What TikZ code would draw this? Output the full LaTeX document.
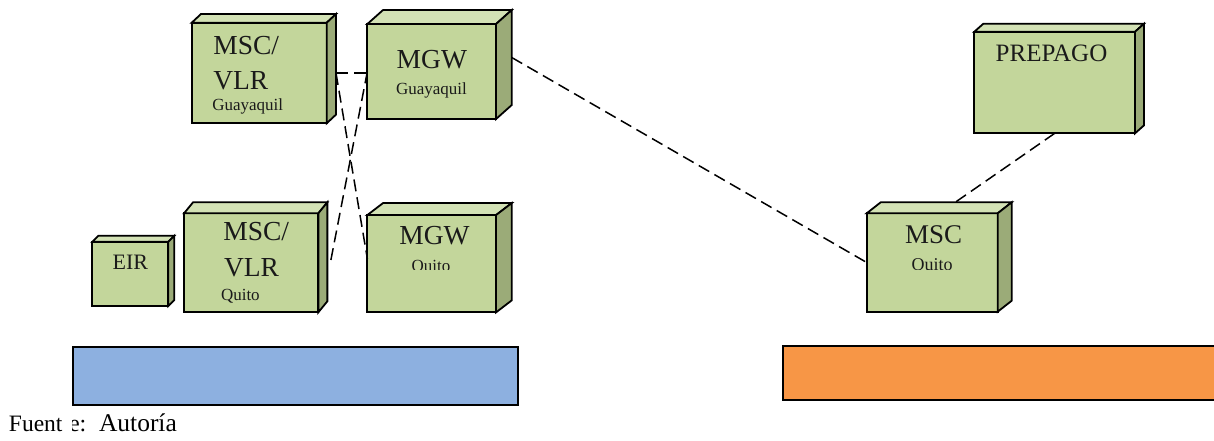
\documentclass[tikz,border=0pt]{standalone}
\usepackage{fontspec}
\setmainfont{Liberation Serif}
\usetikzlibrary{calc}

\definecolor{boxfront}{HTML}{C3D69B}
\definecolor{boxtop}{HTML}{D3E2B5}
\definecolor{boxside}{HTML}{9BAB78}
\definecolor{barblue}{HTML}{8DB0E0}
\definecolor{barorange}{HTML}{F79646}
\definecolor{txtdark}{HTML}{1A1A1A}

\tikzset{
  edge/.style={line width=1.8pt, draw=black, line join=miter},
  frontface/.style={rectangle, edge, fill=boxfront, inner sep=0pt, outer sep=0pt},
  topface/.style={edge, fill=boxtop},
  sideface/.style={edge, fill=boxside},
  bar/.style={rectangle, line width=1.8pt, draw=black, inner sep=0pt, outer sep=0pt},
  link/.style={line width=1.5pt, dash pattern=on 12pt off 6pt},
  lbl/.style={anchor=base west, inner sep=0pt, outer sep=0pt, text=txtdark},
  big/.style={lbl, font=\fontsize{27.5}{29}\selectfont},
  small/.style={lbl, font=\fontsize{17}{19}\selectfont},
}

% 3-D box: name, centre x, centre y, width, height, depth x, depth y
\newcommand\greenbox[7]{%
  \node[frontface, minimum width=#4pt, minimum height=#5pt] (#1) at (#2,#3) {};
  \filldraw[topface] (#1.north west) -- ++(#6pt,#7pt) -- ++(#4pt,0pt)
     -- (#1.north east) -- cycle;
  \filldraw[sideface] (#1.north east) -- ++(#6pt,#7pt) -- ++(0pt,-#5pt)
     -- (#1.south east) -- cycle;
}

\begin{document}
\begin{tikzpicture}[x=1pt,y=-1pt]
\useasboundingbox (0,0) rectangle (1214,440);

% network elements
\greenbox{vlrg}{259.2}{73}{135}{100.6}{9.3}{8.7}
\greenbox{mgwg}{431.7}{71.5}{128.7}{95}{15.7}{14}
\greenbox{vlrq}{251.2}{262.8}{134.3}{99}{9}{11}
\greenbox{mgwq}{431.7}{263.7}{128.7}{97.3}{15.7}{12}
\greenbox{eir}{130.3}{273.9}{76}{64.3}{6}{6}
\greenbox{prepago}{1054.7}{82.5}{160.7}{101.6}{9}{8}
\greenbox{mscq}{932.2}{262.5}{131}{98.4}{14}{11}

% labels
\node[big] (t1) at (213.3,54.3) {MSC/};
\node[big] (t2) at (213.3,89) {VLR};
\node[small] (t3) at (212.3,110) {Guayaquil};

\node[big] (t4) at (396.7,68.3) {MGW};
\node[small] (t5) at (396,94.3) {Guayaquil};

\node[big] (t6) at (223.3,240) {MSC/};
\node[big] (t7) at (224,276.7) {VLR};
\node[small] (t8) at (221,300) {Quito};

\node[big] (t9) at (399.3,244.3) {MGW};
\begin{scope}
  \clip (380,250) rectangle (480,269);
  \node[small] (t10) at (411.7,271.3) {Quito};
\end{scope}

\node[lbl, font=\fontsize{22}{24}\selectfont] (t11) at (112.7,269.3) {EIR};

\node[lbl, font=\fontsize{25}{27}\selectfont] (t12) at (995.7,61.7) {PREPAGO};

\node[lbl, font=\fontsize{27}{29}\selectfont] (t13) at (905,243.3) {MSC};
\begin{scope}
  \clip (890,250) rectangle (990,269.3);
  \node[lbl, font=\fontsize{18}{20}\selectfont] (t14) at (911.7,270.6) {Quito};
\end{scope}

% bars
\node[bar, fill=barblue, minimum width=444.4pt, minimum height=58.3pt] (bblue) at (295.5,375.85) {};
\node[bar, fill=barorange, minimum width=440pt, minimum height=54pt] (borange) at (1003.3,373) {};

% dashed links
\coordinate (vlrgR) at ([xshift=9.3pt]vlrg.east);
\coordinate (vlrqR) at ([xshift=9pt]vlrq.east);
\draw[link] (vlrgR) -- (vlrgR -| mgwg.west);
\draw[link] (vlrgR) -- ([yshift=5pt]mgwq.west);
\draw[link] (mgwg.west) -- ([xshift=3pt]vlrqR) -- (vlrqR);
\draw[link] ([xshift=15.7pt,yshift=14pt]mgwg.east) -- (mscq.west);
\draw[link] (prepago.south) -- ([xshift=23pt,yshift=11pt]mscq.north);

% source line
\node[lbl, text=black, font=\fontsize{23.5}{25}\selectfont] (src1) at (9,431) {Fuent};
\begin{scope}
  \clip (72,400) rectangle (95,440);
  \node[lbl, text=black, font=\fontsize{24}{26}\selectfont] (src2) at (69,431) {e:};
\end{scope}
\node[lbl, text=black, font=\fontsize{25.5}{27}\selectfont] (src3) at (99,431) {Autoría};
\end{tikzpicture}
\end{document}
